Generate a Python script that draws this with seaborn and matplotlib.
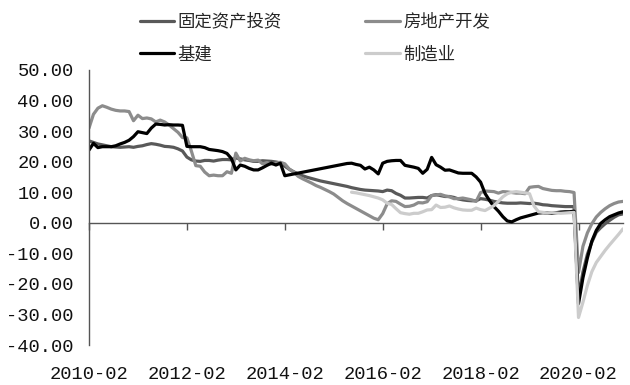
import matplotlib
matplotlib.use("Agg")
import matplotlib.pyplot as plt
import numpy as np
import pandas as pd
import seaborn as sns

nan = np.nan

# monthly cumulative YoY growth (%), Feb..Dec of each year 2010-2020
years = list(range(2010, 2021))
months = [f"{y}-{m:02d}" for y in years for m in range(2, 13)]

fai = [  # 固定资产投资
    26.8, 26.3, 25.8, 25.5, 25.2, 24.9, 24.8, 24.7, 24.8, 24.9, 24.7,
    25.0, 25.2, 25.6, 25.9, 25.7, 25.4, 25.0, 24.9, 24.7, 24.2, 23.5,
    21.5, 20.6, 20.2, 20.1, 20.4, 20.4, 20.2, 20.5, 20.7, 20.7, 20.6,
    21.2, 20.9, 20.6, 20.4, 20.1, 20.1, 20.3, 20.2, 20.1, 19.9, 19.6,
    18.5, 17.5, 16.7, 16.0, 15.4, 14.9, 14.5, 14.1, 13.7, 13.4, 13.1,
    12.8, 12.5, 12.2, 11.9, 11.5, 11.2, 10.9, 10.7, 10.6, 10.5, 10.4,
    10.2, 10.7, 10.5, 9.6, 9.0, 8.1, 8.1, 8.2, 8.3, 8.3, 8.1,
    8.9, 9.2, 8.9, 8.6, 8.6, 8.3, 7.8, 7.5, 7.3, 7.2, 7.2,
    7.9, 7.7, 7.4, 7.0, 6.7, 6.5, 6.4, 6.4, 6.4, 6.5, 6.4,
    6.3, 6.4, 6.2, 5.9, 5.8, 5.6, 5.5, 5.4, 5.3, 5.3, 5.3,
    -24.5, -16.1, -10.3, -6.3, -3.1, -1.6, -0.3, 0.8, 1.8, 2.6, 2.9,
]

real_estate = [  # 房地产开发
    31.0, 35.5, 37.5, 38.3, 37.8, 37.2, 36.8, 36.6, 36.6, 36.4, 33.4,
    35.2, 34.1, 34.3, 34.0, 33.0, 33.6, 33.0, 32.0, 30.8, 29.6, 27.9,
    27.8, 23.5, 18.7, 18.5, 16.6, 15.4, 15.6, 15.4, 15.4, 16.7, 16.2,
    22.8, 20.2, 21.1, 20.6, 20.3, 20.5, 19.3, 19.7, 19.2, 19.5, 19.8,
    19.3, 17.6, 16.6, 15.2, 14.4, 13.7, 13.0, 12.2, 11.6, 10.9, 10.2,
    9.4, 8.3, 7.2, 6.3, 5.5, 4.7, 3.9, 3.1, 2.3, 1.5, 1.0,
    3.0, 6.2, 7.2, 7.0, 6.1, 5.3, 5.4, 5.8, 6.6, 6.5, 6.9,
    8.9, 9.1, 9.3, 8.8, 8.5, 7.9, 7.9, 8.1, 7.8, 7.5, 7.0,
    9.9, 10.4, 10.3, 10.2, 9.7, 10.2, 10.1, 9.9, 9.7, 9.7, 9.5,
    11.6, 11.8, 11.9, 11.2, 10.9, 10.6, 10.5, 10.5, 10.3, 10.2, 9.9,
    -16.3, -7.7, -3.3, -0.3, 1.9, 3.4, 4.6, 5.6, 6.3, 6.8, 7.0,
]

infra = [  # 基建
    23.8, 26.0, 24.6, 24.9, 24.9, 24.9, 25.2, 25.8, 26.3, 27.0, 28.2,
    29.8, 29.5, 29.2, 31.0, 32.3, 32.2, 32.0, 32.1, 32.0, 32.0, 31.9,
    25.0, 24.9, 24.9, 24.9, 24.6, 24.0, 23.8, 23.6, 23.3, 22.7, 21.0,
    17.3, 18.9, 18.5, 17.8, 17.3, 17.3, 18.0, 18.8, 19.5, 18.9, 19.5,
    15.4, nan, nan, nan, nan, nan, nan, nan, nan, nan, nan,
    nan, nan, nan, 19.4, 19.5, 19.1, 18.8, 17.6, 18.2, 17.3, 16.0,
    19.5, 20.1, 20.3, 20.4, 20.4, 18.8, 18.5, 18.2, 17.8, 16.2, 17.5,
    21.4, 19.0, 18.2, 17.2, 17.3, 16.8, 16.3, 16.2, 16.2, 16.2, 15.0,
    13.3, 9.6, 7.3, 5.3, 3.8, 2.0, 0.6, 0.3, 1.0, 1.6, 2.0,
    2.4, 2.8, 3.2, 3.3, 3.2, 3.1, 3.3, 3.5, 3.6, 3.6, 3.8,
    -26.5, -18.0, -11.5, -6.0, -2.5, -0.2, 1.0, 2.0, 2.6, 3.2, 3.6,
]

manufacturing = [nan] * 55 + [  # 制造业
    nan, nan, nan, nan, 10.0, 9.8, 9.5, 9.2, 8.9, 8.5, 8.1,
    7.5, 6.4, 6.0, 4.6, 3.3, 3.0, 2.8, 3.1, 3.1, 3.6, 4.2,
    4.3, 5.8, 5.0, 5.1, 5.5, 4.9, 4.5, 4.2, 4.1, 4.1, 4.8,
    4.3, 4.0, 4.8, 5.6, 7.0, 8.5, 9.5, 10.0, 10.2, 10.0, 9.8,
    9.5, 5.5, 3.6, 3.4, 3.2, 3.3, 3.2, 3.1, 3.2, 3.3, 3.4,
    -31.0, -26.0, -20.5, -16.0, -13.0, -11.0, -9.0, -7.2, -5.5, -3.8, -2.0,
]

series_names = ["固定资产投资", "房地产开发", "基建", "制造业"]
series_colors = ["#595959", "#8c8c8c", "#000000", "#cccccc"]

# long form, missing months dropped so the line joins across gaps
idx = np.arange(len(months))
frames = []
for name, vals in zip(series_names, [fai, real_estate, infra, manufacturing]):
    frames.append(pd.DataFrame({"i": idx, "month": months, "value": vals, "series": name}))
df = pd.concat(frames, ignore_index=True).dropna()

sns.set_style("white")
plt.rcParams["font.family"] = ["Liberation Mono", "DejaVu Sans"]

fig = plt.figure(figsize=(6.3, 3.85), dpi=100)
ax = fig.add_axes([89 / 630, 1 - 345 / 385, (623 - 89) / 630, (345 - 70) / 385])

sns.lineplot(data=df, x="i", y="value", hue="series", hue_order=series_names,
             palette=dict(zip(series_names, series_colors)), linewidth=2.3,
             sort=True, estimator=None, ax=ax)

ax.set_xlim(0, len(months) - 1)
ax.set_ylim(-40, 50)
ax.set_yticks(np.arange(-40, 51, 10))
ax.set_yticklabels([f"{v:.2f}" for v in np.arange(-40, 51, 10)])
tick_pos = list(range(0, len(months), 22))
ax.set_xticks(tick_pos)
ax.set_xticklabels([months[p] for p in tick_pos])
ax.set_xlabel("")
ax.set_ylabel("")

for s in ["top", "right", "bottom"]:
    ax.spines[s].set_visible(False)
ax.spines["left"].set_color("#555555")
ax.spines["left"].set_linewidth(1.0)
ax.tick_params(axis="y", direction="out", length=5, width=1, color="#555555",
               pad=6, labelsize=13.5, labelcolor="#111111")
ax.tick_params(axis="x", length=0, pad=15, labelsize=13.5, labelcolor="#111111")

# horizontal axis line with tick marks at y = 0
zero_axis = ax.secondary_xaxis(40 / 90)
zero_axis.set_xticks(tick_pos)
zero_axis.tick_params(axis="x", direction="out", length=5, width=1, color="#555555",
                      labelbottom=False, labeltop=False)
zero_axis.spines["bottom"].set_color("#555555")
zero_axis.spines["bottom"].set_linewidth(1.0)

handles, labels = ax.get_legend_handles_labels()
ax.get_legend().remove()
order = [0, 2, 1, 3]
fig.legend([handles[k] for k in order], [labels[k] for k in order],
           loc="upper left", bbox_to_anchor=(124 / 630, 1 + 3 / 385), ncol=2,
           frameon=False, handlelength=2.0, handletextpad=0.2, columnspacing=4.8,
           labelspacing=0.85, prop={"family": ["Noto Sans CJK SC"], "size": 12.5})

fig.savefig("out.png", dpi=100)
